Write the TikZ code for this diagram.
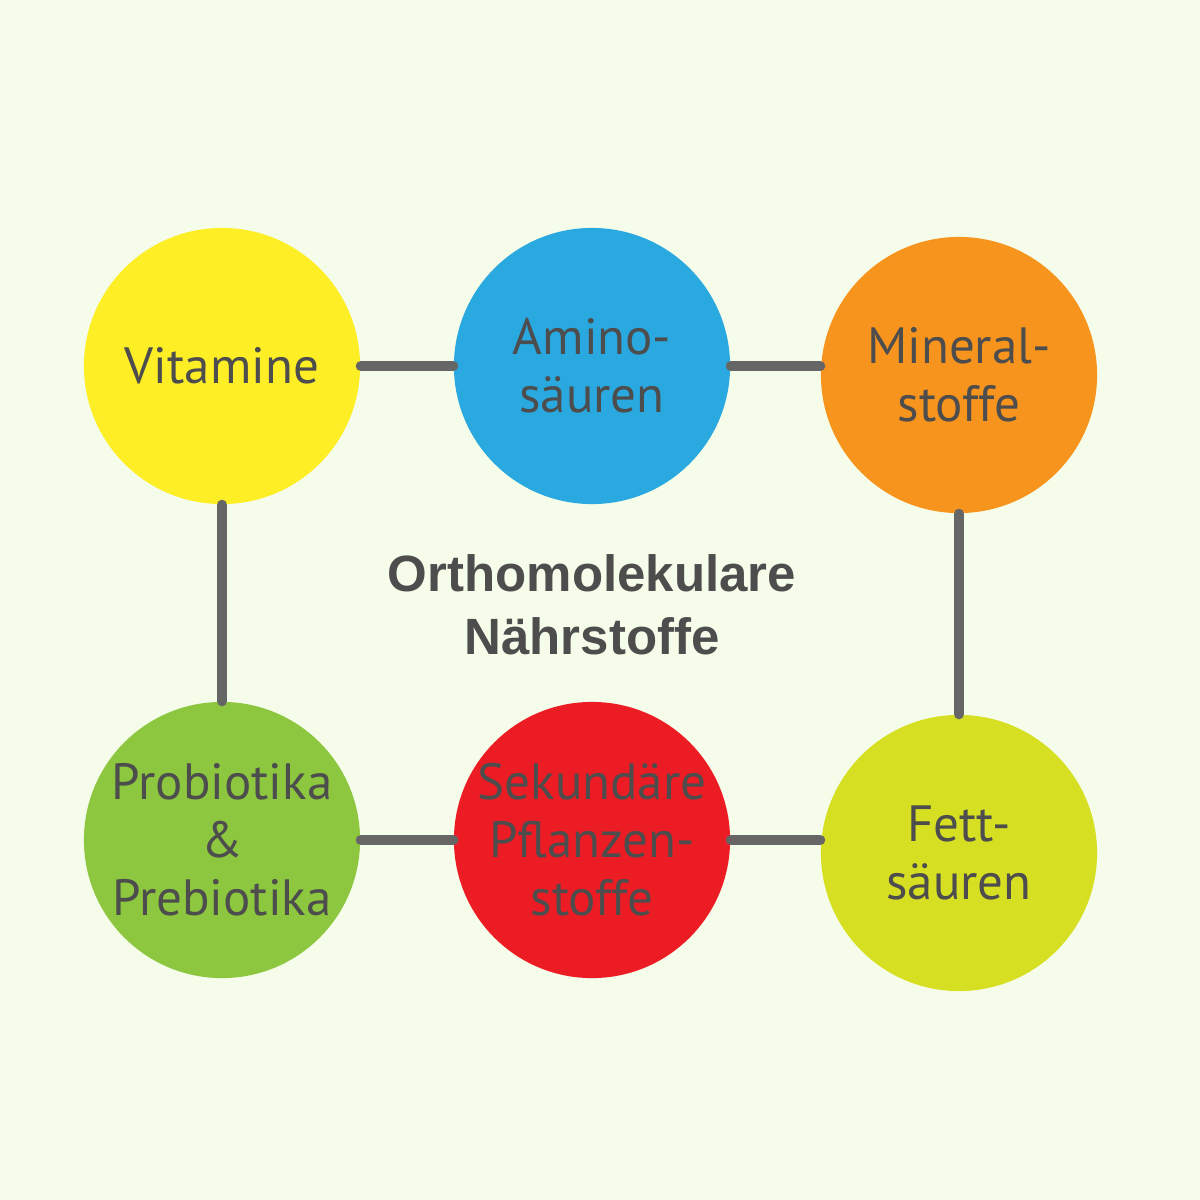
\documentclass[tikz,border=0pt]{standalone}
\usepackage{fontspec}
\setmainfont{PT Sans}
\newfontfamily\titlefont{Liberation Sans}
\usetikzlibrary{positioning}
\definecolor{bg}{HTML}{F5FCE9}
\definecolor{txt}{HTML}{4D4D4D}
\definecolor{link}{HTML}{666666}
\definecolor{cyel}{HTML}{FDEE26}
\definecolor{cblu}{HTML}{2AA8E0}
\definecolor{cora}{HTML}{F7941E}
\definecolor{cgrn}{HTML}{8DC63F}
\definecolor{cred}{HTML}{EC1C24}
\definecolor{clim}{HTML}{D7DF23}
\tikzset{
  topic/.style={circle,minimum size=2.76cm,inner sep=0pt,align=center,
    text=txt,font=\fontsize{14.5}{16.5}\selectfont},
  link/.style={draw=link,line width=2.9pt,line cap=round}
}
\begin{document}
\begin{tikzpicture}[x=0.01cm,y=-0.01cm]
  \fill[bg](0,0)rectangle(1200,1200);
  \useasboundingbox(0,0)rectangle(1200,1200);
  \node[topic,fill=cyel](vit) at (222,366){Vitamine};
  \node[topic,fill=cblu](amino) at (592,366){Amino-\\säuren};
  \node[topic,fill=cora](mineral) at (959,375){Mineral-\\stoffe};
  \node[topic,fill=cgrn](probio) at (222,840){Probiotika\\\&\\Prebiotika};
  \node[topic,fill=cred](sek) at (592,840){Sekundäre\\Pflanzen-\\stoffe};
  \node[topic,fill=clim](fett) at (959,853){Fett-\\säuren};
  \node[text=txt,align=center,font=\titlefont\bfseries\fontsize{14.5}{18}\selectfont]
    (title) at (592,605){Orthomolekulare\\Nährstoffe};
  \draw[link](vit.east)--(amino.west);
  \draw[link](amino.east)--(mineral.west|-amino.east);
  \draw[link](vit.south)--(probio.north);
  \draw[link](mineral.south)--(mineral.south|-fett.north);
  \draw[link](probio.east)--(sek.west);
  \draw[link](sek.east)--(fett.west|-sek.east);
\end{tikzpicture}
\end{document}
